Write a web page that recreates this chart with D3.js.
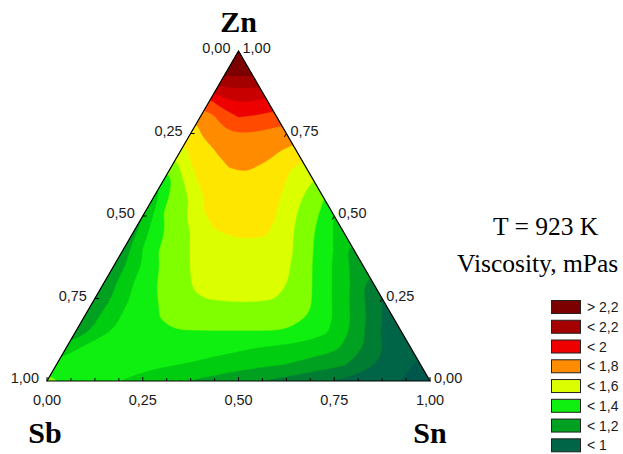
<!DOCTYPE html>
<html><head><meta charset="utf-8">
<script src="https://cdn.jsdelivr.net/npm/d3@7"></script>
<style>body{margin:0;background:#fff}svg{display:block}</style>
</head><body>
<svg id="chart" width="623" height="454"></svg>
<script>
// Viscosity (mPas) on a ternary grid: one array per Zn level (step 0.05),
// entries run along Sn from 0 up to 1 - Zn (step 0.05); Sb = 1 - Zn - Sn.
const visc_Zn000 = [1.43, 1.385, 1.355, 1.325, 1.295, 1.265, 1.237, 1.208, 1.183, 1.157, 1.13, 1.103, 1.076, 1.049, 1.021, 0.994, 0.967, 0.94, 0.912, 0.884, 0.855];
const visc_Zn005 = [1.335, 1.36, 1.355, 1.345, 1.33, 1.318, 1.305, 1.29, 1.27, 1.25, 1.232, 1.215, 1.197, 1.17, 1.14, 1.11, 1.05, 0.98, 0.93, 0.88];
const visc_Zn010 = [1.22, 1.33, 1.36, 1.37, 1.37, 1.365, 1.355, 1.345, 1.33, 1.315, 1.298, 1.28, 1.26, 1.245, 1.22, 1.16, 1.05, 0.96, 0.91];
const visc_Zn015 = [1.16, 1.21, 1.305, 1.35, 1.38, 1.395, 1.396, 1.396, 1.396, 1.396, 1.396, 1.394, 1.38, 1.32, 1.23, 1.11, 0.99, 0.93];
const visc_Zn020 = [1.14, 1.22, 1.31, 1.36, 1.405, 1.43, 1.45, 1.46, 1.465, 1.465, 1.46, 1.44, 1.385, 1.29, 1.18, 1.06, 0.95];
const visc_Zn025 = [1.12, 1.21, 1.317, 1.384, 1.438, 1.487, 1.503, 1.508, 1.51, 1.505, 1.495, 1.43, 1.337, 1.234, 1.11, 0.99];
const visc_Zn030 = [1.12, 1.25, 1.347, 1.416, 1.478, 1.52, 1.545, 1.555, 1.55, 1.53, 1.48, 1.385, 1.287, 1.18, 1.04];
const visc_Zn035 = [1.13, 1.24, 1.372, 1.444, 1.501, 1.54, 1.57, 1.575, 1.555, 1.515, 1.433, 1.337, 1.234, 1.11];
const visc_Zn040 = [1.15, 1.30, 1.415, 1.473, 1.535, 1.565, 1.585, 1.585, 1.55, 1.49, 1.39, 1.295, 1.16];
const visc_Zn045 = [1.17, 1.331, 1.434, 1.501, 1.59, 1.605, 1.61, 1.605, 1.531, 1.443, 1.346, 1.238];
const visc_Zn050 = [1.195, 1.392, 1.467, 1.585, 1.625, 1.64, 1.635, 1.598, 1.502, 1.417, 1.295];
const visc_Zn055 = [1.246, 1.43, 1.51, 1.63, 1.655, 1.66, 1.64, 1.576, 1.477, 1.395];
const visc_Zn060 = [1.313, 1.476, 1.61, 1.66, 1.685, 1.68, 1.645, 1.544, 1.485];
const visc_Zn065 = [1.435, 1.594, 1.64, 1.702, 1.708, 1.69, 1.611, 1.561];
const visc_Zn070 = [1.577, 1.642, 1.718, 1.745, 1.738, 1.709, 1.653];
const visc_Zn075 = [1.656, 1.74, 1.79, 1.797, 1.785, 1.75];
const visc_Zn080 = [1.72, 1.815, 1.9, 1.89, 1.835];
const visc_Zn085 = [1.89, 1.995, 2.01, 1.97];
const visc_Zn090 = [2.12, 2.14, 2.12];
const visc_Zn095 = [2.27, 2.27];
const visc_Zn100 = [2.36];

const contourLevels = [0.9, 1.0, 1.1, 1.2, 1.3, 1.4, 1.5, 1.6, 1.7, 1.8, 1.9, 2.0, 2.1, 2.2];
const bandColors = ["#00574c", "#006446", "#007d32", "#00a020", "#00cc10", "#10f010", "#80ff00",
  "#dcff00", "#ffe600", "#ff8c00", "#ff4a00", "#ee0000", "#c80000", "#a40000", "#7c0000"];

const legendLabels = ["> 2,2", "< 2,2", "< 2", "< 1,8", "< 1,6", "< 1,4", "< 1,2", "< 1"];
const legendColors = ["#7c0000", "#a40000", "#ee0000", "#ff8c00", "#dcff00", "#10f010", "#00a020", "#006446"];

const tickLabels = ["0,00", "0,25", "0,50", "0,75", "1,00"];
const tickValues = [0, 0.25, 0.5, 0.75, 1];
const cornerLabels = ["Zn", "Sb", "Sn"];
const titleText = "T = 923 K";
const subtitleText = "Viscosity, mPas";

// ---------- layout ----------
const svg = d3.select("#chart");
const X0 = 47, YB = 381, W = 383, H = 330;
const sx = d3.scaleLinear().domain([0, 1]).range([0, W]);   // horizontal extent
const sy = d3.scaleLinear().domain([0, 1]).range([0, H]);   // Zn / height
function toPx(sn, zn) { return [X0 + sx(sn) + sx(zn) / 2, YB - sy(zn)]; }

const viscRows = [visc_Zn000, visc_Zn005, visc_Zn010, visc_Zn015, visc_Zn020, visc_Zn025, visc_Zn030,
  visc_Zn035, visc_Zn040, visc_Zn045, visc_Zn050, visc_Zn055, visc_Zn060, visc_Zn065, visc_Zn070,
  visc_Zn075, visc_Zn080, visc_Zn085, visc_Zn090, visc_Zn095, visc_Zn100];
const n = viscRows.length;
const N = n + 2; // one padded cell on every side (outside the triangle, clipped)
const grid = new Array(N * N);
for (let gy = 0; gy < N; gy++) {
  const row = viscRows[Math.max(0, Math.min(n - 1, gy - 1))];
  for (let gx = 0; gx < N; gx++) {
    grid[gy * N + gx] = row[Math.max(0, Math.min(row.length - 1, gx - 1))];
  }
}
const g2f = d3.scaleLinear().domain([1.5, n + 0.5]).range([0, 1]);

const A = toPx(0, 1), B = toPx(0, 0), C = toPx(1, 0);
const triD = `M${A}L${B}L${C}Z`;
svg.append("defs").append("clipPath").attr("id", "tri").append("path").attr("d", triD);

const plot = svg.append("g").attr("clip-path", "url(#tri)");
plot.append("path").attr("d", triD).attr("fill", bandColors[0]);

const contours = d3.contours().size([N, N]).thresholds(contourLevels)(grid);
const line = d3.line().curve(d3.curveBasisClosed);
contours.forEach((c, k) => {
  let d = "";
  c.coordinates.forEach(poly => poly.forEach(ring => {
    const pts = ring.slice(0, -1).map(([gx, gy]) => toPx(g2f(gx), g2f(gy)));
    if (pts.length > 2) d += line(pts);
  }));
  if (d) plot.append("path").attr("d", d).attr("fill", bandColors[k + 1])
    .attr("stroke", bandColors[k + 1]).attr("stroke-width", 0.4);
});

// triangle outline
svg.append("path").attr("d", triD).attr("fill", "none")
  .attr("stroke", "#000").attr("stroke-width", 1.2).attr("stroke-linejoin", "miter");

// ticks
const tickG = svg.append("g").attr("stroke", "#000").attr("stroke-width", 1);
d3.range(0, 17).forEach(k => {
  const [x, y] = toPx(k / 16, 0);
  tickG.append("line").attr("x1", x).attr("y1", y).attr("x2", x).attr("y2", y - (k % 4 === 0 ? 4 : 3));
});
tickValues.slice(1, 4).forEach(t => {
  const [xl, yl] = toPx(0, 1 - t);
  tickG.append("line").attr("x1", xl).attr("y1", yl).attr("x2", xl + 4).attr("y2", yl);
  const [xr, yr] = toPx(1 - t, t);
  tickG.append("line").attr("x1", xr).attr("y1", yr).attr("x2", xr - 2).attr("y2", yr + 3.5);
});

// tick labels
const lab = svg.append("g").attr("font-family", "'Liberation Sans', Arial, sans-serif")
  .attr("font-size", 14.5).attr("fill", "#1a1a1a");
tickValues.forEach((t, i) => {
  const [xb] = toPx(t, 0);
  lab.append("text").attr("x", xb).attr("y", 405).attr("text-anchor", "middle").text(tickLabels[i]);
  const [xl, yl] = toPx(0, 1 - t);   // left side: Sb fraction
  lab.append("text").attr("x", xl - 8).attr("y", yl + 2).attr("text-anchor", "end").text(tickLabels[i]);
  const [xr, yr] = toPx(1 - t, t);   // right side: Zn fraction
  lab.append("text").attr("x", xr + 4).attr("y", yr + 2).attr("text-anchor", "start").text(tickLabels[i]);
});

// corner labels
const corner = svg.append("g").attr("font-family", "'Liberation Serif', 'Times New Roman', serif")
  .attr("font-weight", "bold").attr("font-size", 30).attr("fill", "#000").attr("text-anchor", "middle");
corner.append("text").attr("x", A[0]).attr("y", 32).text(cornerLabels[0]);
corner.append("text").attr("x", B[0] - 2).attr("y", 443).text(cornerLabels[1]);
corner.append("text").attr("x", C[0]).attr("y", 443).text(cornerLabels[2]);

// titles
const ttl = svg.append("g").attr("font-family", "'Liberation Serif', 'Times New Roman', serif")
  .attr("font-size", 25.5).attr("fill", "#000");
ttl.append("text").attr("x", 493).attr("y", 235).text(titleText);
ttl.append("text").attr("x", 457).attr("y", 272).text(subtitleText);

// legend
const leg = svg.append("g");
legendLabels.forEach((l, i) => {
  const y = 300 + i * 19.76;
  leg.append("rect").attr("x", 551.5).attr("y", y + 0.5).attr("width", 29).attr("height", 13)
    .attr("fill", legendColors[i]).attr("stroke", "#222").attr("stroke-width", 1);
  leg.append("text").attr("x", 587).attr("y", y + 12)
    .attr("font-family", "'Liberation Sans', Arial, sans-serif").attr("font-size", 14)
    .attr("fill", "#1a1a1a").text(l);
});
</script>
</body></html>
